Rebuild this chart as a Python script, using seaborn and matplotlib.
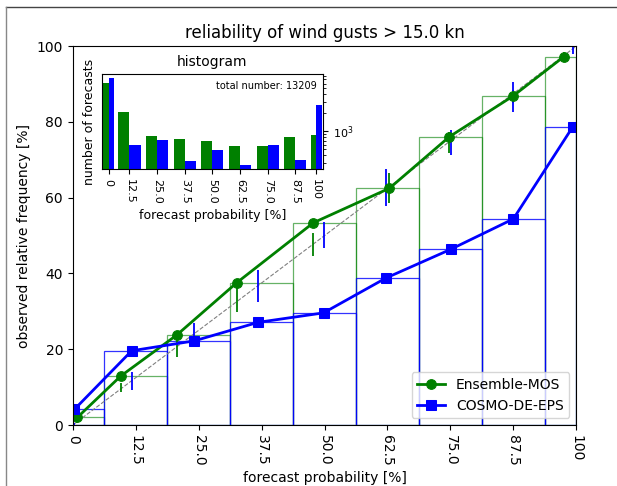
import numpy as np
import matplotlib
matplotlib.use("Agg")
import matplotlib.pyplot as plt
from matplotlib.lines import Line2D
import seaborn as sns

# ---------- datos ----------
bin_edges = [0, 6.25, 18.75, 31.25, 43.75, 56.25, 68.75, 81.25, 93.75, 100]
bin_centers = [3.125, 12.5, 25, 37.5, 50, 62.5, 75, 87.5, 96.875]
bin_labels = ["0", "12.5", "25.0", "37.5", "50.0", "62.5", "75.0", "87.5", "100"]

# Ensemble-MOS
mos_prob = [0.9, 9.5, 20.6, 32.6, 47.8, 62.9, 74.8, 87.4, 97.5]
mos_freq = [2.0, 12.9, 23.7, 37.6, 53.4, 62.5, 76.1, 86.8, 97.2]
mos_lo = [0.5, 8.7, 18.0, 29.9, 44.6, 58.7, 71.7, 84.9, 96.5]
mos_hi = [1.3, 11.1, 22.4, 37.4, 50.6, 66.4, 77.4, 88.4, 98.5]
mos_count = [6179, 2014, 821, 732, 679, 569, 569, 792, 854]

# COSMO-DE-EPS
eps_prob = [0.3, 11.7, 24.1, 36.8, 49.8, 62.2, 75.1, 87.5, 99.3]
eps_freq = [4.1, 19.6, 22.2, 27.1, 29.6, 38.8, 46.4, 54.4, 78.7]
eps_lo = [0.0, 9.2, 21.7, 32.5, 46.6, 57.8, 71.2, 82.7, 98.0]
eps_hi = [0.6, 14.0, 26.9, 40.9, 53.6, 67.7, 78.0, 90.6, 100.5]
eps_count = [7273, 592, 706, 323, 482, 277, 592, 334, 2630]

total_number = 13209

# ---------- figura ----------
fig = plt.figure(figsize=(6.17, 4.86), dpi=100)
ax = fig.add_axes([0.118, 0.1255, 0.816, 0.7795])

widths = np.diff(bin_edges)

# cajas de frecuencia observada
ax.bar(bin_edges[:-1], mos_freq, width=widths, align='edge', fill=False,
       edgecolor='green', lw=0.9, alpha=0.6)
ax.bar(bin_edges[:-1], eps_freq, width=widths, align='edge', fill=False,
       edgecolor='blue', lw=0.9, alpha=0.8)

# diagonal
ax.plot([0, 100], [0, 100], ls='--', color='gray', lw=0.8)

# barras de consistencia
ax.vlines(mos_prob, mos_lo, mos_hi, color='green', lw=1.3)
ax.vlines(eps_prob, eps_lo, eps_hi, color='blue', lw=1.3)

sns.lineplot(x=mos_prob, y=mos_freq, ax=ax, color='green', marker='o',
             markersize=7, markeredgecolor='green', lw=2, label='Ensemble-MOS')
sns.lineplot(x=eps_prob, y=eps_freq, ax=ax, color='blue', marker='s',
             markersize=7, markeredgecolor='blue', lw=2, label='COSMO-DE-EPS')

ax.set_xlim(0, 100)
ax.set_ylim(0, 100)
ax.set_xticks([0, 12.5, 25, 37.5, 50, 62.5, 75, 87.5, 100])
ax.set_xticklabels(bin_labels, rotation=-90)
ax.set_yticks([0, 20, 40, 60, 80, 100])
ax.set_xlabel('forecast probability [%]')
ax.set_ylabel('observed relative frequency [%]')
ax.set_title('reliability of wind gusts > 15.0 kn', fontsize=12)
ax.legend(loc='lower right')

# ---------- histograma ----------
axh = fig.add_axes([0.165, 0.652, 0.3585, 0.196])
w = np.array(widths)
c = np.array(bin_centers)
axh.bar(c - 0.2 * w, mos_count, width=0.4 * w, color='green', bottom=1)
axh.bar(c + 0.2 * w, eps_count, width=0.4 * w, color='blue', bottom=1)
axh.set_yscale('log')
axh.set_ylim(238, 8630)
axh.set_xlim(0, 100)
axh.set_xticks(bin_centers)
axh.set_xticklabels(bin_labels, rotation=-90, fontsize=8)
axh.yaxis.tick_right()
axh.yaxis.set_label_position('left')
axh.tick_params(axis='y', labelsize=8)
axh.set_title('histogram', fontsize=10)
axh.set_xlabel('forecast probability [%]', fontsize=9)
axh.set_ylabel('number of forecasts', fontsize=9)
axh.text(0.97, 0.93, 'total number: %d' % total_number, transform=axh.transAxes,
         ha='right', va='top', fontsize=7)

# marco de la captura
fig.add_artist(Line2D([6 / 617, 1], [1 - 7 / 486, 1 - 7 / 486], color='#444444', lw=1))
fig.add_artist(Line2D([6 / 617, 6 / 617], [0, 1 - 7 / 486], color='#888888', lw=1))

fig.savefig('out.png', dpi=100)
